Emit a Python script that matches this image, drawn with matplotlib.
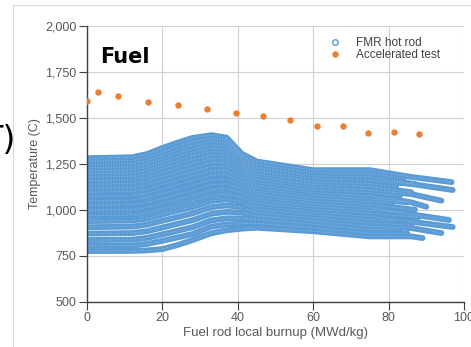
import matplotlib
matplotlib.use('Agg')
import matplotlib.pyplot as plt
from matplotlib.lines import Line2D
from matplotlib.patches import Rectangle
from matplotlib.ticker import StrMethodFormatter

# Accelerated test points (burnup, temperature)
accel_burnup = [0.0, 2.8, 8.2, 16.3, 24.2, 31.8, 39.5, 46.8, 53.9, 61.0, 67.9, 74.6, 81.5, 88.0]
accel_temp = [1593, 1641, 1616, 1587, 1569, 1546, 1527, 1509, 1486, 1455, 1455, 1418, 1421, 1410]

# FMR hot rod curves: temperature read at shared burnup knots, plus each curve's end point
rod_knots = [0, 12, 16, 20, 24, 28, 33, 37, 41, 45, 60, 75, 86]
rod_temps = [
    [1280, 1285, 1303, 1335, 1364, 1390, 1405, 1392, 1305, 1262, 1215, 1215, 1178],
    [1263, 1267, 1284, 1315, 1344, 1370, 1388, 1378, 1300, 1245, 1200, 1196, 1172],
    [1246, 1250, 1266, 1296, 1324, 1350, 1370, 1362, 1290, 1228, 1184, 1178, 1142],
    [1229, 1233, 1249, 1278, 1306, 1331, 1352, 1346, 1278, 1212, 1168, 1160, 1140],
    [1212, 1216, 1231, 1260, 1287, 1312, 1334, 1330, 1265, 1196, 1152, 1142, 1125],
    [1195, 1199, 1214, 1242, 1268, 1293, 1316, 1313, 1250, 1180, 1137, 1125, 1100],
    [1177, 1181, 1196, 1223, 1249, 1273, 1297, 1295, 1235, 1164, 1122, 1108, 1085],
    [1158, 1162, 1176, 1203, 1228, 1252, 1277, 1276, 1220, 1148, 1107, 1092, 1075],
    [1138, 1142, 1156, 1182, 1207, 1230, 1256, 1256, 1204, 1132, 1092, 1076, 1040],
    [1117, 1121, 1135, 1160, 1184, 1207, 1234, 1235, 1187, 1116, 1077, 1060, 1040],
    [1095, 1099, 1112, 1137, 1161, 1184, 1211, 1213, 1170, 1100, 1062, 1044, 1035],
    [1072, 1076, 1089, 1113, 1137, 1159, 1187, 1190, 1152, 1084, 1047, 1028, 1002],
    [1048, 1052, 1065, 1088, 1111, 1133, 1162, 1166, 1133, 1068, 1032, 1012, 975],
    [1023, 1027, 1039, 1062, 1084, 1106, 1136, 1141, 1113, 1052, 1017, 996, 985],
    [997, 1000, 1012, 1035, 1057, 1078, 1109, 1115, 1092, 1036, 1002, 980, 962],
    [968, 971, 983, 1005, 1026, 1047, 1079, 1086, 1068, 1019, 987, 963, 935],
    [938, 941, 952, 974, 995, 1015, 1048, 1056, 1043, 1002, 972, 946, 940],
    [905, 908, 919, 940, 960, 980, 1014, 1023, 1015, 985, 956, 929, 915],
    [870, 873, 883, 903, 923, 943, 978, 988, 985, 967, 940, 910, 900],
    [835, 837, 847, 866, 885, 905, 942, 953, 953, 948, 922, 892, 895],
    [803, 805, 814, 831, 849, 868, 908, 920, 924, 926, 903, 872, 870],
    [775, 776, 779, 786, 808, 835, 872, 888, 897, 902, 883, 855, 855],
]
rod_end_burnup = [96.7, 84, 87, 97, 82, 86, 94, 83, 90, 85, 81, 87,
                  96, 84, 88, 97, 82, 86, 94, 83, 85, 89]
rod_end_temp = [1150, 1170, 1140, 1107, 1125, 1095, 1049, 1075, 1016, 1040, 1035, 1000,
                944, 985, 960, 906, 940, 915, 873, 895, 870, 846]

blue = '#5b9bd5'
orange = '#ed7d31'
gray_txt = '#595959'

plt.rcParams['font.family'] = ['Liberation Sans', 'DejaVu Sans']

fig = plt.figure(figsize=(4.71, 3.47), dpi=100)
ax = fig.add_axes([87 / 471, 1 - 301.7 / 347, (464 - 87) / 471, (301.7 - 25.7) / 347])

# Rod curves drawn as thick bands, with a faint dotted core for the hollow-marker look
for temps, xe, te in zip(rod_temps, rod_end_burnup, rod_end_temp):
    xs = [k for k in rod_knots if k < xe - 0.5]
    ys = temps[:len(xs)]
    ax.plot(xs + [xe], ys + [te], color=blue, lw=4.2, solid_capstyle='round',
            solid_joinstyle='round', zorder=2)
for temps, xe, te in zip(rod_temps, rod_end_burnup, rod_end_temp):
    xs = [k for k in rod_knots if k < xe - 0.5]
    ys = temps[:len(xs)]
    ax.plot(xs + [xe], ys + [te], color='white', lw=0.6, alpha=0.35,
            dashes=(1.2, 2.0), zorder=2.1)

ax.plot(accel_burnup, accel_temp, 'o', color=orange, ms=4.6, mec='none', zorder=3)

ax.set_xlim(0, 100)
ax.set_ylim(500, 2000)
ax.set_xticks(range(0, 101, 20))
ax.set_yticks(range(500, 2001, 250))
ax.yaxis.set_major_formatter(StrMethodFormatter('{x:,.0f}'))
ax.grid(True, color='#d0d0d0', lw=0.8, zorder=0)
ax.set_axisbelow(True)
for s in ['top', 'right']:
    ax.spines[s].set_visible(False)
for s in ['left', 'bottom']:
    ax.spines[s].set_color('#404040')
    ax.spines[s].set_linewidth(1.0)
ax.tick_params(colors='#404040', labelcolor=gray_txt, labelsize=9, length=6, width=0.8, pad=1.5)
ax.set_xlabel('Fuel rod local burnup (MWd/kg)', fontsize=9.5, color=gray_txt, labelpad=2)
ax.set_ylabel('Temperature (C)', fontsize=9, color=gray_txt, labelpad=3)

ax.text(0.035, 0.865, 'Fuel', transform=ax.transAxes, fontsize=15, fontweight='bold',
        family='DejaVu Sans', color='black')

handles = [
    Line2D([], [], ls='none', marker='o', mfc='none', mec=blue, ms=4, mew=1.0),
    Line2D([], [], ls='none', marker='o', color=orange, mec='none', ms=4.6),
]
leg = ax.legend(handles, ['FMR hot rod', 'Accelerated test'], loc='upper left',
                bbox_to_anchor=(0.62, 0.99), frameon=False, fontsize=8.5,
                handlelength=1.0, handletextpad=1.3, labelspacing=0.0, borderaxespad=0.3)
for t in leg.get_texts():
    t.set_color('#404040')

# chart border and clipped label from the source figure
fig.patches.append(Rectangle((13 / 471, -0.1), 1.2, 1 - 5 / 347 + 0.1, transform=fig.transFigure,
                             fill=False, ec='#d9d9d9', lw=0.8))
fig.text(15 / 471, 1 - 140 / 347, 'T)', fontsize=24, ha='right', va='center',
         family='DejaVu Sans', color='black')

plt.savefig('out.png', dpi=100)
plt.close()
